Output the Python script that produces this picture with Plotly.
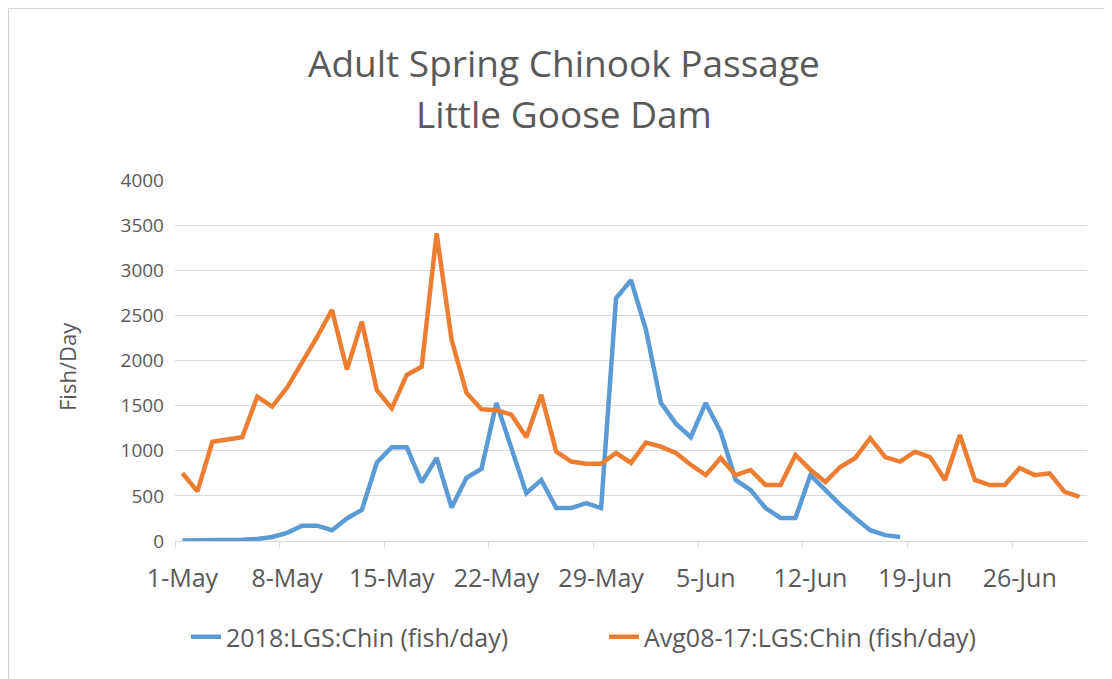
import datetime as dt
import plotly.graph_objects as go

start = dt.date(2018, 5, 1)

blue_name = "2018:LGS:Chin (fish/day)"
orange_name = "Avg08-17:LGS:Chin (fish/day)"

blue_values = [5, 5, 5, 10, 15, 22, 44, 90, 170, 170,
               120, 250, 345, 870, 1040, 1040, 650, 920, 370, 700,
               800, 1530, 1040, 530, 676, 365, 365, 420, 365, 2690,
               2890, 2340, 1530, 1300, 1150, 1530, 1208, 676, 565, 365,
               255, 255, 730, 565, 400, 255, 120, 65, 45]

orange_values = [750, 550, 1100, 1120, 1150, 1600, 1490, 1700, 1970, 2260,
                 2560, 1900, 2430, 1670, 1470, 1840, 1930, 3410, 2230, 1640,
                 1460, 1450, 1400, 1150, 1620, 990, 880, 855, 855, 975,
                 865, 1090, 1045, 975, 845, 730, 920, 730, 787, 620,
                 620, 953, 790, 655, 820, 920, 1140, 930, 880, 990,
                 930, 676, 1175, 676, 620, 620, 810, 730, 750, 545,
                 490]

blue_dates = [start + dt.timedelta(days=i) for i in range(len(blue_values))]
orange_dates = [start + dt.timedelta(days=i) for i in range(len(orange_values))]

title_line1 = "Adult Spring Chinook Passage"
title_line2 = "Little Goose Dam"
y_title = "Fish/Day"

FONT = "Open Sans, Noto Sans, sans-serif"
GREY = "#595959"
GRID = "#d9d9d9"

# page body has an 8px margin; work in screen coordinates and convert
OFF = 8
W, H = 1104, 671
SL, SR, ST, SB = 175, 1087, 180, 541  # plot area in screen px
L, T = SL - OFF, ST - OFF
R = W - (SR - OFF)
B = H - (SB - OFF)
pw, ph = SR - SL, SB - ST

def px(x):
    return (x - SL) / pw

def py(y):
    return (SB - y) / ph

fig = go.Figure()
fig.add_trace(go.Scatter(x=blue_dates, y=blue_values, mode="lines", name=blue_name,
                         line=dict(color="#5B9BD5", width=4.5)))
fig.add_trace(go.Scatter(x=orange_dates, y=orange_values, mode="lines", name=orange_name,
                         line=dict(color="#ED7D31", width=4.5)))

fig.update_layout(
    width=W, height=H,
    margin=dict(l=L, r=R, t=T, b=B),
    paper_bgcolor="white", plot_bgcolor="white",
    font=dict(family=FONT, color=GREY, size=19),
    showlegend=True,
    legend=dict(orientation="h", x=px(186), xanchor="left", y=py(637), yanchor="middle",
                font=dict(size=25, color=GREY), entrywidth=373, entrywidthmode="pixels",
                bgcolor="rgba(0,0,0,0)"),
    xaxis=dict(
        type="date",
        range=["2018-04-30 12:00", "2018-06-30 12:00"],
        tick0="2018-05-01", dtick=7 * 86400000,
        tickformat="%-d-%b",
        ticks="", showgrid=False,
        showline=True, linecolor=GRID, linewidth=1,
        ticklabelstandoff=15,
        tickfont=dict(size=25, color=GREY),
        minor=dict(ticks="outside", tick0="2018-04-30 12:00", dtick=7 * 86400000,
                   ticklen=6, tickcolor=GRID, showgrid=False),
        zeroline=False,
    ),
    yaxis=dict(
        range=[0, 4000], dtick=500,
        showgrid=True, gridcolor=GRID, gridwidth=1,
        zeroline=False, showline=False,
        ticks="", ticklabelstandoff=10,
        tickfont=dict(size=19, color=GREY),
    ),
    annotations=[
        dict(text=title_line1, xref="paper", yref="paper", x=px(564), y=py(62.5),
             xanchor="center", yanchor="middle", showarrow=False,
             font=dict(size=37, color=GREY, family=FONT)),
        dict(text=title_line2, xref="paper", yref="paper", x=px(564), y=py(114),
             xanchor="center", yanchor="middle", showarrow=False,
             font=dict(size=37, color=GREY, family=FONT)),
        dict(text=y_title, xref="paper", yref="paper", x=px(67), y=py(367),
             xanchor="center", yanchor="middle", showarrow=False, textangle=-90,
             font=dict(size=22, color=GREY, family=FONT)),
    ],
    shapes=[
        dict(type="rect", xref="paper", yref="paper",
             x0=px(8.5), x1=px(1107), y0=py(700), y1=py(8.5),
             line=dict(color="#d0d0d0", width=1), fillcolor="rgba(0,0,0,0)", layer="below"),
    ],
)

fig.write_html("out.html")
